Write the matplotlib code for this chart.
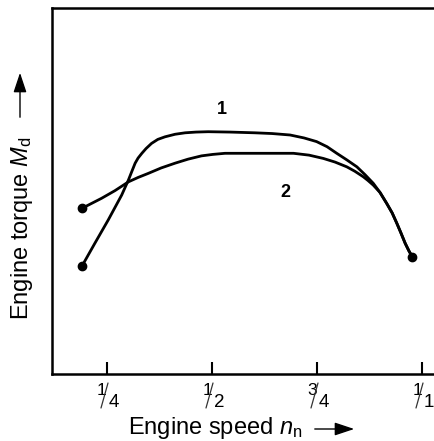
import matplotlib
matplotlib.use("Agg")
import matplotlib.pyplot as plt
import matplotlib.transforms as mtransforms
from matplotlib.patches import FancyArrowPatch

plt.rcParams['font.family'] = ['Liberation Sans', 'DejaVu Sans']
plt.rcParams['mathtext.fontset'] = 'custom'
plt.rcParams['mathtext.rm'] = 'Liberation Sans'
plt.rcParams['mathtext.it'] = 'Liberation Sans:italic'

# Engine speed as a fraction of rated speed, torque in relative units
speed_1 = [0.191, 0.221, 0.253, 0.285, 0.301, 0.310, 0.317, 0.324, 0.333, 0.343,
           0.356, 0.371, 0.388, 0.412, 0.436, 0.462, 0.491, 0.543, 0.602, 0.643,
           0.686, 0.719, 0.749, 0.774, 0.797, 0.821, 0.845, 0.864, 0.884, 0.900,
           0.916, 0.929, 0.940, 0.950, 0.960, 0.969, 0.977]
torque_1 = [0.296, 0.357, 0.421, 0.489, 0.530, 0.556, 0.576, 0.590, 0.603, 0.616,
            0.630, 0.641, 0.648, 0.655, 0.659, 0.661, 0.662, 0.661, 0.659, 0.657,
            0.653, 0.645, 0.635, 0.621, 0.603, 0.585, 0.566, 0.545, 0.521, 0.496,
            0.466, 0.440, 0.412, 0.385, 0.357, 0.336, 0.320]

speed_2 = [0.191, 0.237, 0.269, 0.301, 0.324, 0.348, 0.379, 0.412, 0.443, 0.475,
           0.502, 0.531, 0.602, 0.694, 0.731, 0.765, 0.793, 0.821, 0.840, 0.860,
           0.871, 0.884, 0.900, 0.916, 0.929, 0.940, 0.950, 0.960, 0.969, 0.977]
torque_2 = [0.453, 0.480, 0.501, 0.525, 0.537, 0.548, 0.563, 0.576, 0.587, 0.596,
            0.600, 0.603, 0.603, 0.603, 0.598, 0.589, 0.579, 0.566, 0.554, 0.539,
            0.529, 0.516, 0.496, 0.466, 0.440, 0.412, 0.385, 0.357, 0.336, 0.320]

tick_pos = [0.25, 0.5, 0.75, 1.0]
tick_num = ['1', '1', '3', '1']
tick_den = ['4', '2', '4', '1']

W, H = 435, 441
fig = plt.figure(figsize=(W / 100, H / 100), dpi=100)
ax = fig.add_axes([52 / W, (H - 374) / H, (440 - 52) / W, (374 - 8) / H])

line_kw = dict(color='black', lw=2.0, solid_capstyle='round', solid_joinstyle='round')
ax.plot(speed_1, torque_1, **line_kw)
ax.plot(speed_2, torque_2, **line_kw)
ax.plot([speed_1[0], speed_2[0], speed_1[-1]], [torque_1[0], torque_2[0], torque_1[-1]],
        'o', color='black', ms=6)

ax.text(0.523, 0.722, '1', fontsize=13, fontweight='bold', ha='center', va='center')
ax.text(0.674, 0.497, '2', fontsize=13, fontweight='bold', ha='center', va='center')

ax.set_xlim((52 - 2) / 420, (440 - 2) / 420)
ax.set_ylim(0, 1)
ax.spines['right'].set_visible(False)
for s in ['left', 'bottom', 'top']:
    ax.spines[s].set_linewidth(1.8)

ax.set_yticks([])
ax.set_xticks(tick_pos)
ax.set_xticklabels([])
ax.tick_params(axis='x', direction='in', length=9, width=1.5)

# Fractional tick labels: numerator, slash, denominator placed below each tick
base = mtransforms.blended_transform_factory(ax.transData, ax.transAxes)


def px_offset(dx, dy):
    return base + mtransforms.ScaledTranslation(dx / fig.dpi, dy / fig.dpi, fig.dpi_scale_trans)


for pos, num, den in zip(tick_pos, tick_num, tick_den):
    ax.text(pos, 0, num, transform=px_offset(-5, -21), fontsize=12.5,
            ha='center', va='baseline', clip_on=False)
    ax.text(pos, 0, den, transform=px_offset(7, -33), fontsize=13.5,
            ha='center', va='baseline', clip_on=False)
    ax.annotate('', xy=(pos, 0), xycoords=px_offset(1, -9),
                xytext=(-7, -25), textcoords='offset pixels',
                arrowprops=dict(arrowstyle='-', lw=0.9, color='#333333',
                                shrinkA=0, shrinkB=0))

fig.text(128 / W, 1 - 434 / H, r'Engine speed $n_\mathrm{n}$', fontsize=17,
         ha='left', va='baseline')
fig.text(22 / W, 1 - 320 / H, r'Engine torque $M_\mathrm{d}$', fontsize=17,
         rotation=90, ha='center', va='bottom')

arrow = dict(arrowstyle='-|>,head_length=1.2,head_width=0.4', color='black',
             lw=1.0, mutation_scale=10, transform=fig.transFigure)
fig.add_artist(FancyArrowPatch((312 / W, 1 - 429 / H), (357 / W, 1 - 429 / H), **arrow))
fig.add_artist(FancyArrowPatch((20 / W, 1 - 120 / H), (20 / W, 1 - 70 / H), **arrow))

fig.savefig('out.png', dpi=100)
